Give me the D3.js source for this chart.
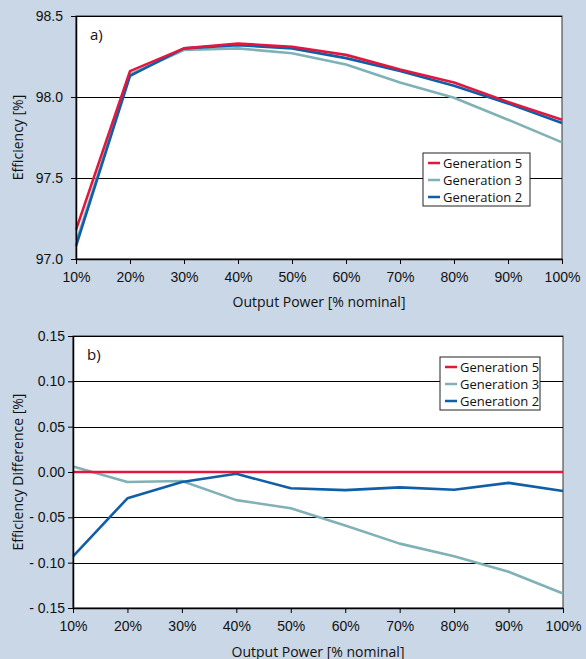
<!DOCTYPE html>
<html>
<head>
<meta charset="utf-8">
<script src="https://cdn.jsdelivr.net/npm/d3@7"></script>
<style>
  body { margin: 0; background: #c9d7e7; }
  svg { display: block; font-family: "Open Sans", sans-serif; }
  .tick text { font-size: 14px; fill: #111; }
  .axis path, .axis line { stroke: #000; }
  .grid line { stroke: #000; stroke-width: 1; }
</style>
</head>
<body>
<svg id="chart" width="586" height="659"></svg>
<script>
var power = ["10%", "20%", "30%", "40%", "50%", "60%", "70%", "80%", "90%", "100%"];
var seriesNames = ["Generation 5", "Generation 3", "Generation 2"];
var seriesColors = ["#e1173f", "#7fb1b6", "#0f5ea8"];

// a) efficiency [%]
var effGen5 = [97.18, 98.16, 98.30, 98.33, 98.31, 98.26, 98.17, 98.09, 97.97, 97.86];
var effGen3 = [97.10, 98.14, 98.29, 98.30, 98.27, 98.20, 98.09, 97.995, 97.86, 97.72];
var effGen2 = [97.08, 98.13, 98.30, 98.32, 98.30, 98.24, 98.16, 98.07, 97.96, 97.84];
var effTicks = [97.0, 97.5, 98.0, 98.5];

// b) efficiency difference to generation 5 [%]
var diffGen5 = [0, 0, 0, 0, 0, 0, 0, 0, 0, 0];
var diffGen3 = [0.006, -0.011, -0.010, -0.031, -0.040, -0.059, -0.079, -0.093, -0.110, -0.134];
var diffGen2 = [-0.093, -0.029, -0.011, -0.002, -0.018, -0.020, -0.017, -0.0195, -0.012, -0.021];
var diffTicks = [-0.15, -0.10, -0.05, 0.00, 0.05, 0.10, 0.15];

var svg = d3.select("#chart");

function drawPanel(opt) {
  var m = opt.margin;
  var width = opt.right - m.left,
      height = opt.bottom - m.top;

  var x = d3.scalePoint().domain(power).range([0, width]);
  var y = d3.scaleLinear().domain(opt.domain).range([height, 0]);

  var g = svg.append("g")
      .attr("transform", "translate(" + m.left + "," + m.top + ")");

  g.append("rect")
      .attr("width", width)
      .attr("height", height)
      .attr("fill", "#fff")
      .attr("stroke", "#333")
      .attr("stroke-width", 1);

  g.append("g")
      .attr("class", "grid")
    .selectAll("line")
      .data(opt.ticks)
    .enter().append("line")
      .attr("x1", 0)
      .attr("x2", width)
      .attr("y1", function(d) { return Math.round(y(d)) + 0.5; })
      .attr("y2", function(d) { return Math.round(y(d)) + 0.5; });

  var line = d3.line()
      .x(function(d, i) { return x(power[i]); })
      .y(function(d) { return y(d); });

  // draw back to front: gen 3, gen 2, gen 5 on top
  [1, 2, 0].forEach(function(k) {
    g.append("path")
        .datum(opt.series[k])
        .attr("fill", "none")
        .attr("stroke", seriesColors[k])
        .attr("stroke-width", 2.6)
        .attr("stroke-linejoin", "round")
        .attr("d", line);
  });

  g.append("g")
      .attr("class", "axis")
      .attr("transform", "translate(0," + height + ")")
      .call(d3.axisBottom(x).tickSize(5).tickSizeOuter(0).tickPadding(8))
      .call(function(a) { a.select(".domain").attr("stroke-width", 1.5); });

  g.append("g")
      .attr("class", "axis")
      .call(d3.axisLeft(y).tickValues(opt.ticks).tickFormat(opt.format)
        .tickSize(5).tickSizeOuter(0).tickPadding(opt.yPad))
      .call(function(a) { a.select(".domain").attr("stroke-width", 1.5); });

  g.append("text")
      .attr("x", 14)
      .attr("y", 24)
      .attr("font-size", 15)
      .attr("fill", "#111")
      .text(opt.label);

  g.append("text")
      .attr("x", width / 2)
      .attr("y", height + opt.xTitleDy)
      .attr("text-anchor", "middle")
      .attr("font-size", 14)
      .attr("fill", "#111")
      .text("Output Power [% nominal]");

  g.append("text")
      .attr("transform", "translate(" + (-m.left + 23) + "," + (height / 2) + ") rotate(-90)")
      .attr("text-anchor", "middle")
      .attr("font-size", 14)
      .attr("fill", "#111")
      .text(opt.yTitle);

  // legend
  var lg = g.append("g")
      .attr("transform", "translate(" + opt.legend[0] + "," + opt.legend[1] + ")");
  lg.append("rect")
      .attr("width", opt.legend[2])
      .attr("height", 53)
      .attr("fill", "#fff")
      .attr("stroke", "#222");
  seriesNames.forEach(function(name, i) {
    lg.append("line")
        .attr("x1", 5).attr("x2", 17)
        .attr("y1", 10 + i * 17).attr("y2", 10 + i * 17)
        .attr("stroke", seriesColors[i])
        .attr("stroke-width", 2.5);
    lg.append("text")
        .attr("x", 20)
        .attr("y", 14.5 + i * 17)
        .attr("font-size", 13)
        .attr("fill", "#111")
        .text(name);
  });
}

drawPanel({
  margin: {top: 16, left: 76},
  right: 562, bottom: 259,
  domain: [97.0, 98.5],
  ticks: effTicks,
  format: d3.format(".1f"),
  yPad: 8,
  series: [effGen5, effGen3, effGen2],
  label: "a)",
  yTitle: "Efficiency [%]",
  xTitleDy: 48,
  legend: [347, 137, 107]
});

drawPanel({
  margin: {top: 336, left: 73},
  right: 563, bottom: 608,
  domain: [-0.15, 0.15],
  ticks: diffTicks,
  format: function(d) { return d < 0 ? "- " + d3.format(".2f")(-d) : d3.format(".2f")(d); },
  yPad: 3,
  series: [diffGen5, diffGen3, diffGen2],
  label: "b)",
  yTitle: "Efficiency Difference [%]",
  xTitleDy: 49,
  legend: [367, 21, 100]
});
</script>
</body>
</html>
